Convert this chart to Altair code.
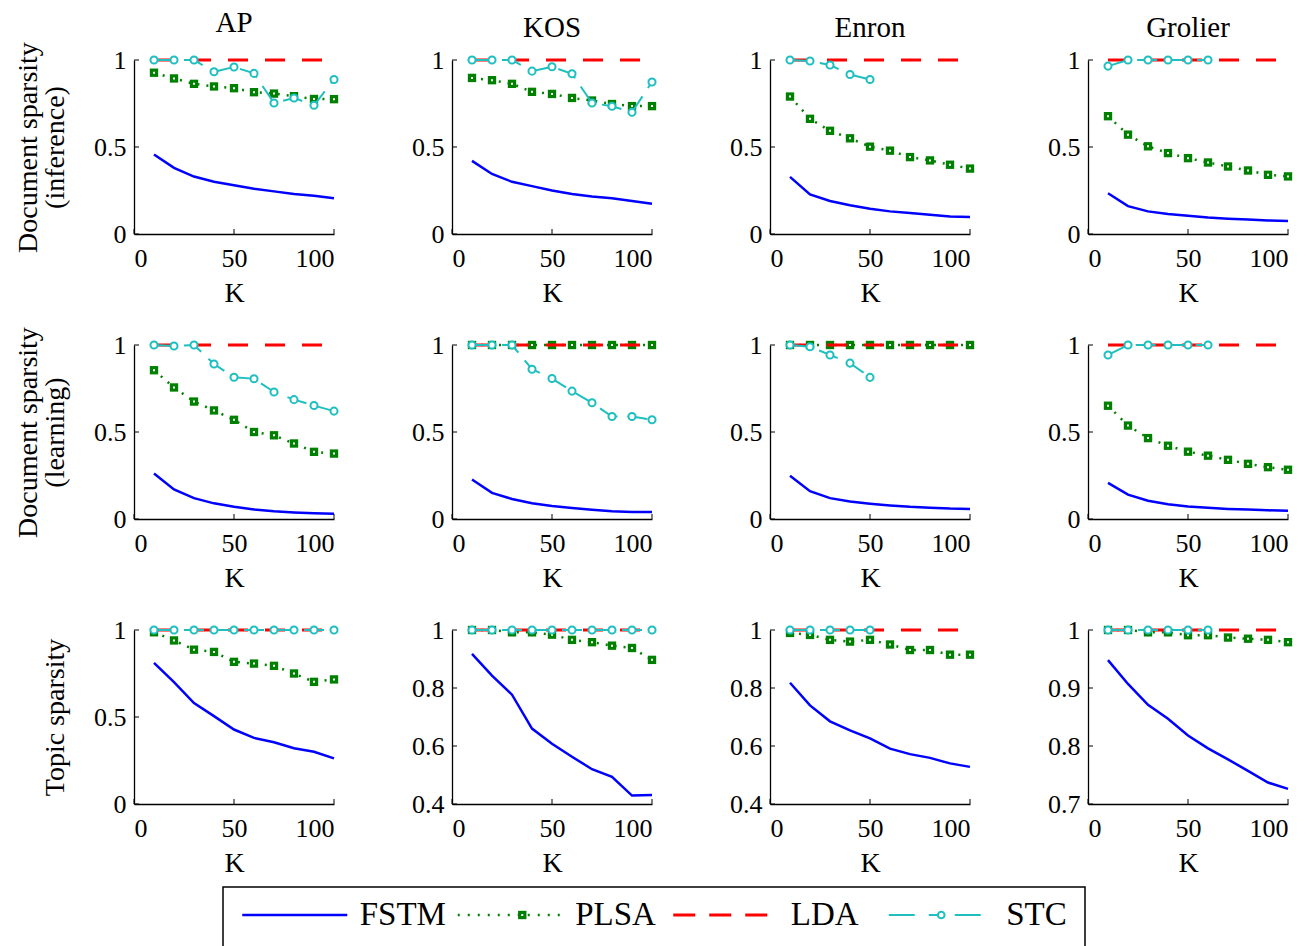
import altair as alt
import pandas as pd

FONT = "Liberation Serif"

K = [10, 20, 30, 40, 50, 60, 70, 80, 90, 100]
DATASETS = ["AP", "KOS", "Enron", "Grolier"]
SERIES = ["FSTM", "PLSA", "LDA", "STC"]
ROW_TITLES = [["Document sparsity", "(inference)"],
              ["Document sparsity", "(learning)"],
              ["Topic sparsity"]]

LDA = [1, 1, 1, 1, 1, 1, 1, 1, 1, 1]

# ---- Document sparsity (inference)
inf_AP_FSTM = [0.457, 0.38, 0.33, 0.30, 0.28, 0.26, 0.245, 0.23, 0.22, 0.205]
inf_AP_PLSA = [0.927, 0.894, 0.863, 0.848, 0.838, 0.815, 0.807, 0.792, 0.776, 0.775]
inf_AP_STC = [1, 1, 1, 0.932, 0.96, 0.923, 0.753, 0.782, 0.74, 0.888]

inf_KOS_FSTM = [0.42, 0.345, 0.30, 0.275, 0.25, 0.23, 0.215, 0.205, 0.19, 0.174]
inf_KOS_PLSA = [0.897, 0.884, 0.863, 0.817, 0.805, 0.782, 0.767, 0.747, 0.735, 0.735]
inf_KOS_STC = [1, 1, 1, 0.936, 0.961, 0.921, 0.753, 0.734, 0.70, 0.874]

inf_Enron_FSTM = [0.328, 0.228, 0.19, 0.165, 0.145, 0.13, 0.12, 0.11, 0.10, 0.097]
inf_Enron_PLSA = [0.79, 0.662, 0.593, 0.55, 0.502, 0.479, 0.442, 0.423, 0.398, 0.376]
inf_Enron_STC = [1, 0.994, 0.971, 0.917, 0.888]

inf_Grolier_FSTM = [0.234, 0.16, 0.13, 0.115, 0.105, 0.095, 0.088, 0.083, 0.078, 0.075]
inf_Grolier_PLSA = [0.677, 0.571, 0.504, 0.465, 0.436, 0.411, 0.388, 0.365, 0.34, 0.331]
inf_Grolier_STC = [0.965, 1, 1, 1, 1, 1]

# ---- Document sparsity (learning)
lrn_AP_FSTM = [0.262, 0.17, 0.12, 0.09, 0.07, 0.055, 0.045, 0.038, 0.033, 0.03]
lrn_AP_PLSA = [0.855, 0.756, 0.675, 0.624, 0.57, 0.50, 0.481, 0.434, 0.386, 0.376]
lrn_AP_STC = [1, 0.994, 1, 0.891, 0.815, 0.806, 0.73, 0.686, 0.652, 0.62]

lrn_KOS_FSTM = [0.227, 0.15, 0.115, 0.09, 0.075, 0.063, 0.053, 0.045, 0.04, 0.04]
lrn_KOS_PLSA = [1, 1, 1, 1, 1, 1, 1, 1, 1, 1]
lrn_KOS_STC = [1, 1, 1, 0.861, 0.807, 0.735, 0.668, 0.589, 0.589, 0.57]

lrn_Enron_FSTM = [0.248, 0.16, 0.12, 0.10, 0.088, 0.078, 0.07, 0.065, 0.06, 0.058]
lrn_Enron_PLSA = [1, 1, 1, 1, 1, 1, 1, 1, 1, 1]
lrn_Enron_STC = [1, 0.99, 0.943, 0.896, 0.814]

lrn_Grolier_FSTM = [0.208, 0.14, 0.105, 0.085, 0.072, 0.064, 0.058, 0.054, 0.05, 0.047]
lrn_Grolier_PLSA = [0.651, 0.537, 0.465, 0.421, 0.387, 0.364, 0.34, 0.317, 0.298, 0.283]
lrn_Grolier_STC = [0.943, 1, 1, 1, 1, 1]

# ---- Topic sparsity
top_AP_FSTM = [0.811, 0.70, 0.58, 0.505, 0.428, 0.38, 0.355, 0.32, 0.30, 0.262]
top_AP_PLSA = [0.987, 0.94, 0.887, 0.874, 0.817, 0.807, 0.794, 0.75, 0.702, 0.716]
top_AP_STC = [1, 1, 1, 1, 1, 1, 1, 1, 1, 1]

top_KOS_FSTM = [0.918, 0.843, 0.777, 0.66, 0.608, 0.563, 0.52, 0.494, 0.429, 0.431]
top_KOS_PLSA = [1, 1, 0.992, 0.992, 0.984, 0.966, 0.958, 0.946, 0.938, 0.897]
top_KOS_STC = [1, 1, 1, 1, 1, 1, 1, 1, 1, 1]

top_Enron_FSTM = [0.818, 0.74, 0.685, 0.654, 0.626, 0.591, 0.572, 0.559, 0.54, 0.528]
top_Enron_PLSA = [0.99, 0.983, 0.966, 0.96, 0.966, 0.95, 0.931, 0.931, 0.915, 0.915]
top_Enron_STC = [1, 1, 1, 1, 1]

top_Grolier_FSTM = [0.948, 0.907, 0.871, 0.847, 0.818, 0.796, 0.777, 0.757, 0.737, 0.726]
top_Grolier_PLSA = [1, 1, 0.996, 0.996, 0.991, 0.991, 0.987, 0.985, 0.983, 0.979]
top_Grolier_STC = [1, 1, 1, 1, 1, 1]

ROWS = [
    {"AP": (inf_AP_FSTM, inf_AP_PLSA, LDA, inf_AP_STC),
     "KOS": (inf_KOS_FSTM, inf_KOS_PLSA, LDA, inf_KOS_STC),
     "Enron": (inf_Enron_FSTM, inf_Enron_PLSA, LDA, inf_Enron_STC),
     "Grolier": (inf_Grolier_FSTM, inf_Grolier_PLSA, LDA, inf_Grolier_STC)},
    {"AP": (lrn_AP_FSTM, lrn_AP_PLSA, LDA, lrn_AP_STC),
     "KOS": (lrn_KOS_FSTM, lrn_KOS_PLSA, LDA, lrn_KOS_STC),
     "Enron": (lrn_Enron_FSTM, lrn_Enron_PLSA, LDA, lrn_Enron_STC),
     "Grolier": (lrn_Grolier_FSTM, lrn_Grolier_PLSA, LDA, lrn_Grolier_STC)},
    {"AP": (top_AP_FSTM, top_AP_PLSA, LDA, top_AP_STC),
     "KOS": (top_KOS_FSTM, top_KOS_PLSA, LDA, top_KOS_STC),
     "Enron": (top_Enron_FSTM, top_Enron_PLSA, LDA, top_Enron_STC),
     "Grolier": (top_Grolier_FSTM, top_Grolier_PLSA, LDA, top_Grolier_STC)},
]

Y_DOMAINS = [
    {"AP": [0, 1], "KOS": [0, 1], "Enron": [0, 1], "Grolier": [0, 1]},
    {"AP": [0, 1], "KOS": [0, 1], "Enron": [0, 1], "Grolier": [0, 1]},
    {"AP": [0, 1], "KOS": [0.4, 1], "Enron": [0.4, 1], "Grolier": [0.7, 1]},
]
Y_TICKS = [
    {"AP": [0, 0.5, 1], "KOS": [0, 0.5, 1], "Enron": [0, 0.5, 1], "Grolier": [0, 0.5, 1]},
    {"AP": [0, 0.5, 1], "KOS": [0, 0.5, 1], "Enron": [0, 0.5, 1], "Grolier": [0, 0.5, 1]},
    {"AP": [0, 0.5, 1], "KOS": [0.4, 0.6, 0.8, 1], "Enron": [0.4, 0.6, 0.8, 1],
     "Grolier": [0.7, 0.8, 0.9, 1]},
]
X_TICKS = [0, 50, 100]

BLUE = "#0000FF"
GREEN = "#008000"
RED = "#FF0000"
CYAN = "#1FBFBF"

W, H = 200, 174


def panel(r, ds):
    fstm, plsa, lda, stc = ROWS[r][ds]
    rows = []
    for name, vals in zip(SERIES, (fstm, plsa, lda, stc)):
        for k, v in zip(K, vals):
            rows.append({"series": name, "K": k, "v": v})
    df = pd.DataFrame(rows)

    xenc = alt.X("K:Q", scale=alt.Scale(domain=[0, 100], nice=False),
                 axis=alt.Axis(values=X_TICKS, title="K", format="d",
                               labelFont=FONT, titleFont=FONT))
    yt = ROW_TITLES[r] if ds == "AP" else ""
    yenc = alt.Y("v:Q", scale=alt.Scale(domain=Y_DOMAINS[r][ds], nice=False, zero=False),
                 axis=alt.Axis(values=Y_TICKS[r][ds], format="~g", title=yt,
                               labelFont=FONT, titleFont=FONT))

    base = alt.Chart(df).encode(x=xenc, y=yenc)
    f = base.transform_filter(alt.datum.series == "FSTM").mark_line(
        color=BLUE, strokeWidth=2.5)
    pl = base.transform_filter(alt.datum.series == "PLSA").mark_line(
        color=GREEN, strokeWidth=2.5, strokeDash=[2, 7])
    ps = base.transform_filter(alt.datum.series == "PLSA").mark_point(
        shape="square", filled=True, color=GREEN, size=70, opacity=1)
    pd_ = base.transform_filter(alt.datum.series == "PLSA").mark_point(
        shape="square", filled=True, color="white", size=4, opacity=1)
    ld = base.transform_filter(alt.datum.series == "LDA").mark_line(
        color=RED, strokeWidth=3, strokeDash=[20, 17])
    sl = base.transform_filter(alt.datum.series == "STC").mark_line(
        color=CYAN, strokeWidth=2, strokeDash=[20, 10])
    sp = base.transform_filter(alt.datum.series == "STC").mark_point(
        shape="circle", filled=True, fill="white", stroke=CYAN, strokeWidth=2,
        size=50, opacity=1)

    xt = alt.Chart(pd.DataFrame({"K": X_TICKS})).mark_rule(
        color="black", strokeWidth=1).encode(
        x=xenc, y=alt.value(H), y2=alt.value(H - 5))
    ytk = alt.Chart(pd.DataFrame({"v": Y_TICKS[r][ds]})).mark_rule(
        color="black", strokeWidth=1).encode(
        y=yenc, x=alt.value(0), x2=alt.value(5))

    ch = alt.layer(f, pl, ps, pd_, ld, sl, sp, xt, ytk).properties(width=W, height=H)
    if r == 0:
        ch = ch.properties(title=alt.TitleParams(ds, fontSize=29, font=FONT,
                                                 fontWeight="normal", color="black",
                                                 offset=4, anchor="middle"))
    return ch


panels = [panel(r, ds) for r in range(3) for ds in DATASETS]
grid = alt.concat(*panels, columns=4, spacing={"row": 111, "column": 118},
                  bounds="flush")

# ---- legend box (positions are relative to the centre of each series' band)
leg_df = pd.DataFrame({"series": SERIES})
lx = alt.X("series:N", scale=alt.Scale(domain=SERIES, paddingInner=0, paddingOuter=0),
           axis=None)
lbase = alt.Chart(leg_df).encode(x=lx, y=alt.value(28))
LINE = "M-1,0H1"
LSIZE = 105 * 105
C = -108
l_f = lbase.transform_filter(alt.datum.series == "FSTM").mark_point(
    shape=LINE, size=LSIZE, filled=False, color=BLUE, strokeWidth=2.5, opacity=1,
    xOffset=C + 72)
l_pl = lbase.transform_filter(alt.datum.series == "PLSA").mark_point(
    shape=LINE, size=LSIZE, filled=False, color=GREEN, strokeWidth=2.5, opacity=1,
    strokeDash=[2, 8], xOffset=C + 72)
l_ps = lbase.transform_filter(alt.datum.series == "PLSA").mark_point(
    shape="square", filled=True, color=GREEN, size=70, opacity=1, xOffset=C + 84)
l_pd = lbase.transform_filter(alt.datum.series == "PLSA").mark_point(
    shape="square", filled=True, color="white", size=4, opacity=1, xOffset=C + 84)
l_ld = lbase.transform_filter(alt.datum.series == "LDA").mark_point(
    shape=LINE, size=LSIZE, filled=False, color=RED, strokeWidth=3, opacity=1,
    strokeDash=[22, 14], xOffset=C + 72)
l_sl = lbase.transform_filter(alt.datum.series == "STC").mark_point(
    shape=LINE, size=LSIZE, filled=False, color=CYAN, strokeWidth=2, opacity=1,
    strokeDash=[26, 14, 12, 14], xOffset=C + 72)
l_sp = lbase.transform_filter(alt.datum.series == "STC").mark_point(
    shape="circle", filled=True, fill="white", stroke=CYAN, strokeWidth=2, size=45,
    opacity=1, xOffset=C + 72)
l_t = lbase.mark_text(align="left", baseline="middle", font=FONT, fontSize=33,
                      color="black", xOffset=C + 137).encode(text="series:N")

legend = alt.layer(l_f, l_pl, l_ps, l_pd, l_ld, l_sl, l_sp, l_t).properties(
    width=862, height=64,
    view=alt.ViewBackground(stroke="black", strokeWidth=1.5))

spacer = alt.Chart(pd.DataFrame({"a": [0]})).mark_point(opacity=0).encode(
    x=alt.value(0), y=alt.value(0)).properties(width=87, height=64)

legend_row = alt.hconcat(spacer, legend, spacing=0)

chart = alt.vconcat(grid, legend_row, spacing=5).properties(
    padding={"left": 14, "top": 8, "right": 0, "bottom": 0}
).configure_view(stroke="transparent").configure_axis(
    grid=False, ticks=False, domainColor="black", domainWidth=1.3,
    labelFont=FONT, labelFontSize=26, labelColor="black", labelPadding=11,
    titleFont=FONT, titleFontSize=28, titleFontWeight="normal", titleColor="black",
    titleLineHeight=27
).configure_axisX(titlePadding=8).configure_axisY(titlePadding=24, labelPadding=8)

chart.save("out.html", embed_options={"renderer": "svg", "actions": False})
